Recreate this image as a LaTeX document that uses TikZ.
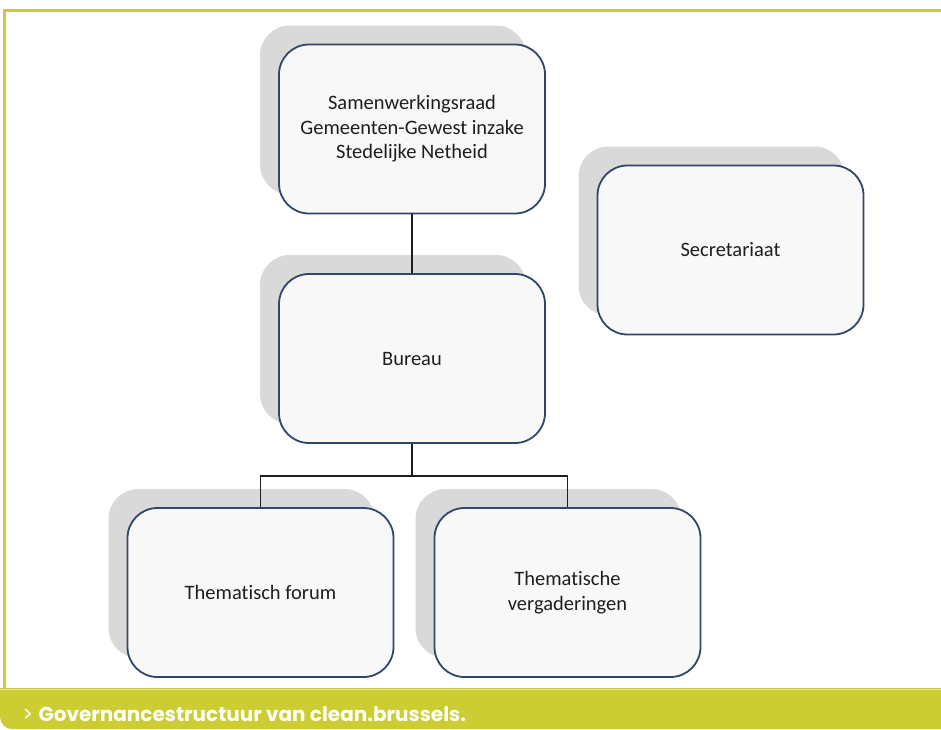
\documentclass[tikz,border=0pt]{standalone}
\usepackage{fontspec}
\setmainfont{Carlito}[Ligatures=NoCommon]
\newfontfamily\capfont{Poppins}
\definecolor{capgreen}{RGB}{204,204,51}
\definecolor{caplight}{RGB}{228,228,140}
\definecolor{boxline}{RGB}{50,70,105}
\definecolor{boxfill}{RGB}{248,248,248}
\definecolor{shadowgray}{RGB}{217,217,217}
\definecolor{textgray}{RGB}{30,30,30}

\begin{document}
\begin{tikzpicture}[x=1pt, y=-1pt, thick,
		orgbox/.style={draw=boxline, line width=1.8pt, fill=boxfill, rounded corners=30pt,
			minimum width=266pt, minimum height=169pt, align=center, text=textgray,
			font=\fontsize{20.5}{24.5}\selectfont,
			preaction={fill=shadowgray, draw=none, transform canvas={shift={(-19pt,19pt)}}}},
		link/.style={line width=1.6pt, draw=textgray}]
				\useasboundingbox (0,0) rectangle (941,729);
				% frame
				\draw [capgreen, line width=2.5pt] (4.5,688) -- (4.5,10.5) -- (941,10.5);
				% caption band
				\fill [capgreen] (941,688) -- (0,688) [rounded corners=12pt] -- (0,729) [sharp corners] -- (941,729) -- cycle;
				\draw [caplight, line width=1pt] (0,689) -- (941,689);
				\node [anchor=base west, text=white, inner sep=0pt, font=\capfont\fontsize{20}{22}\selectfont] (cap) at (22,721) {> \bfseries Governancestructuur van clean.brussels.};

				% boxes
				\node [orgbox] (raad) at (412,129) {Samenwerkingsraad\\Gemeenten-Gewest inzake\\Stedelijke Netheid};
				\node [orgbox] (secr) at (730.5,250) {Secretariaat};
				\node [orgbox] (bureau) at (412,358.5) {Bureau};
				\node [orgbox] (forum) at (260.5,592.5) {Thematisch forum};
				\node [orgbox] (verg) at (567.5,592.5) {Thematische\\vergaderingen};

				% connectors
				\draw [link] (raad) -- (bureau);
				\coordinate (split) at ([yshift=-32pt]bureau.south);
				\draw [link] (bureau) -- (split);
				\foreach \n in {forum, verg}
					\draw [link] (split) -| (\n.north);
			\end{tikzpicture}
\end{document}
